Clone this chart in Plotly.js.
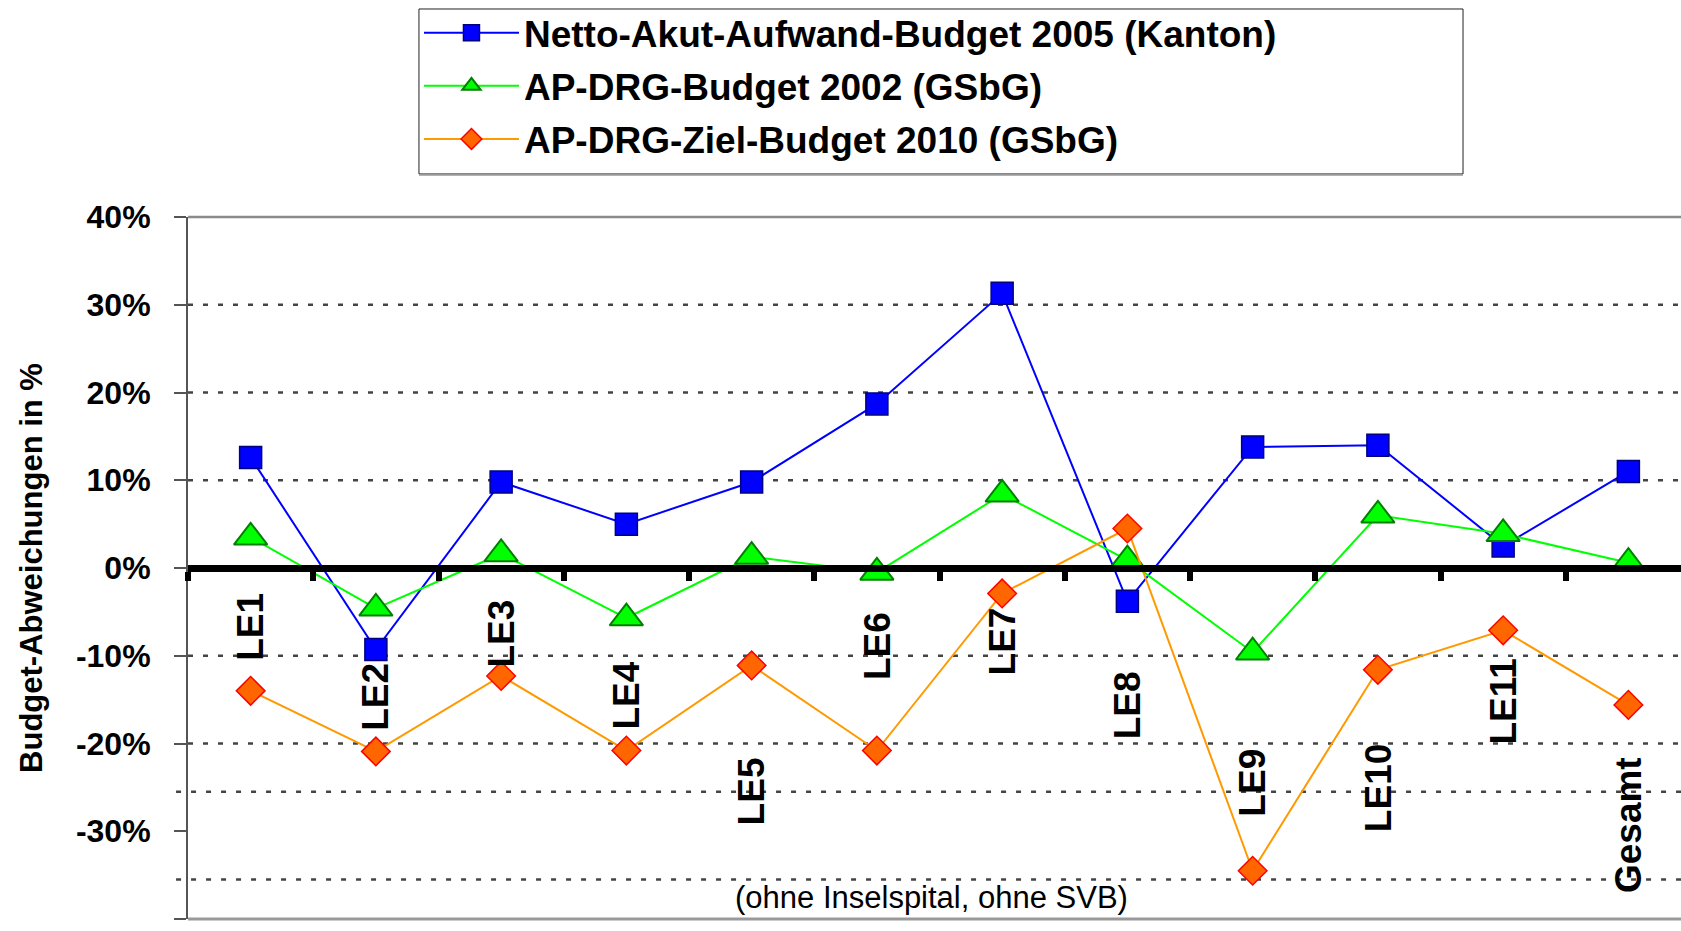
<!DOCTYPE html>
<html>
<head>
<meta charset="utf-8">
<script src="https://cdn.plot.ly/plotly-3.0.1.min.js"></script>
<style>
  html, body { margin: 0; padding: 0; background: #fff; }
  #chart { width: 1681px; height: 931px; }
</style>
</head>
<body>
<div id="chart"></div>
<script>
// ---- data ----
const categories = ['LE1', 'LE2', 'LE3', 'LE4', 'LE5', 'LE6', 'LE7', 'LE8', 'LE9', 'LE10', 'LE11', 'Gesamt'];
const nettoAkut2005 = [12.6, -9.3, 9.8, 5.0, 9.8, 18.7, 31.3, -3.8, 13.8, 14.0, 2.5, 11.0];
const apDrg2002 = [3.5, -4.6, 1.6, -5.7, 1.3, -0.5, 8.4, 0.9, -9.6, 6.0, 3.9, 0.6];
const apDrgZiel2010 = [-14.0, -20.9, -12.3, -20.8, -11.1, -20.8, -2.9, 4.5, -34.5, -11.6, -7.1, -15.6];
const seriesNames = ['Netto-Akut-Aufwand-Budget 2005 (Kanton)', 'AP-DRG-Budget 2002 (GSbG)', 'AP-DRG-Ziel-Budget 2010 (GSbG)'];
const yTickVals = [-40, -30, -20, -10, 0, 10, 20, 30, 40];
const yTickText = ['-40%', '-30%', '-20%', '-10%', '0%', '10%', '20%', '30%', '40%'];
const footnote = '(ohne Inselspital, ohne SVB)';

// ---- layout helpers (placement only) ----
const labelPos = [-6.75, -14.7, -7.45, -14.5, -25.5, -8.9, -8.35, -15.6, -24.5, -25.1, -15.2, -29.25];
const gridAt = [30, 20, 10, -10, -20];
const extraGridAt = [-25.5, -35.5];

const FONT = 'Liberation Sans, Arial, Helvetica, sans-serif';
const NARROW = 'Liberation Sans Narrow, Arial Narrow, Liberation Sans, Arial, sans-serif';

const traces = [
  {
    x: categories, y: nettoAkut2005, name: seriesNames[0], type: 'scatter', mode: 'lines+markers',
    legendgroup: 'a',
    line: { color: '#0000FF', width: 2 },
    marker: { symbol: 'square', size: 22, color: '#0000FF', line: { color: '#000080', width: 1.5 } }
  },
  {
    x: categories, y: apDrg2002, name: seriesNames[1], type: 'scatter', mode: 'lines+markers',
    legendgroup: 'b',
    line: { color: '#00FF00', width: 2 },
    marker: { symbol: 'triangle-up', size: 29, color: '#00FF00', line: { color: '#008000', width: 2 } }
  },
  {
    x: categories, y: apDrgZiel2010, name: seriesNames[2], type: 'scatter', mode: 'lines+markers',
    legendgroup: 'c',
    line: { color: '#FF9900', width: 2 },
    marker: { symbol: 'diamond', size: 22, color: '#FF6600', line: { color: '#FF0000', width: 1.5 } }
  }
];

const shapes = [];
// legend frame
shapes.push({ type: 'rect', xref: 'paper', yref: 'paper', x0: 0.1547, x1: 0.854, y0: 1.0613, y1: 1.2963,
  layer: 'below', fillcolor: '#fff', line: { color: '#222', width: 1 } });
shapes.push({ type: 'line', xref: 'paper', yref: 'paper', x0: 0.1547, x1: 0.854, y0: 1.0598, y1: 1.0598,
  layer: 'below', line: { color: '#999', width: 1.5 } });
gridAt.forEach(v => shapes.push({
  type: 'line', xref: 'paper', yref: 'y', x0: 0, x1: 1, y0: v, y1: v, layer: 'below',
  line: { color: '#444', width: 2.5, dash: '5px,10px' }
}));
extraGridAt.forEach(v => shapes.push({
  type: 'line', xref: 'paper', yref: 'y', x0: -0.008, x1: 1, y0: v, y1: v, layer: 'below',
  line: { color: '#444', width: 2.5, dash: '5px,10px' }
}));
// plot frame top / bottom
shapes.push({ type: 'line', xref: 'paper', yref: 'paper', x0: 0, x1: 1, y0: 1, y1: 1, layer: 'below',
  line: { color: '#8a8a8a', width: 2.5 } });
shapes.push({ type: 'line', xref: 'paper', yref: 'paper', x0: 0, x1: 1, y0: 0, y1: 0, layer: 'below',
  line: { color: '#999', width: 3 } });

const annotations = categories.map((c, i) => ({
  x: c, y: labelPos[i], xref: 'x', yref: 'y', text: c, showarrow: false, textangle: -90,
  font: { family: NARROW, size: 37, color: '#000', weight: 'bold' }
}));
annotations.push({
  xref: 'paper', yref: 'paper', x: 0.4977, y: 0.03, xanchor: 'center', yanchor: 'middle',
  text: footnote, showarrow: false, font: { family: FONT, size: 31, color: '#000' }
});

const layout = {
  width: 1681, height: 931,
  paper_bgcolor: '#fff', plot_bgcolor: '#fff',
  margin: { l: 188, r: 0, t: 217, b: 12, pad: 0 },
  showlegend: true,
  legend: {
    x: 0.1547, y: 1.306, xanchor: 'left', yanchor: 'top',
    borderwidth: 0, bgcolor: 'rgba(0,0,0,0)',
    font: { family: FONT, size: 37, color: '#000', weight: 'bold' },
    itemwidth: 95, tracegroupgap: 2
  },
  xaxis: {
    type: 'category', range: [-0.5, 11.42],
    anchor: 'free', position: 0.5,
    showline: true, linecolor: '#000', linewidth: 7,
    ticks: 'outside', tickson: 'boundaries', ticklen: 9, tickwidth: 6, tickcolor: '#000',
    showticklabels: false, showgrid: false, zeroline: false, fixedrange: true
  },
  yaxis: {
    range: [-40, 40], tickvals: yTickVals, ticktext: yTickText,
    showline: true, linecolor: '#555', linewidth: 2,
    ticks: 'outside', ticklen: 12, tickwidth: 2, tickcolor: '#555',
    ticklabelstandoff: 17,
    showgrid: false, zeroline: false, fixedrange: true,
    tickfont: { family: FONT, size: 32, color: '#000', weight: 'bold' },
    title: { text: 'Budget-Abweichungen in %', standoff: 24,
      font: { family: FONT, size: 31, color: '#000', weight: 'bold' } }
  },
  shapes: shapes,
  annotations: annotations
};

Plotly.newPlot('chart', traces, layout, { displayModeBar: false, staticPlot: true });
</script>
</body>
</html>
